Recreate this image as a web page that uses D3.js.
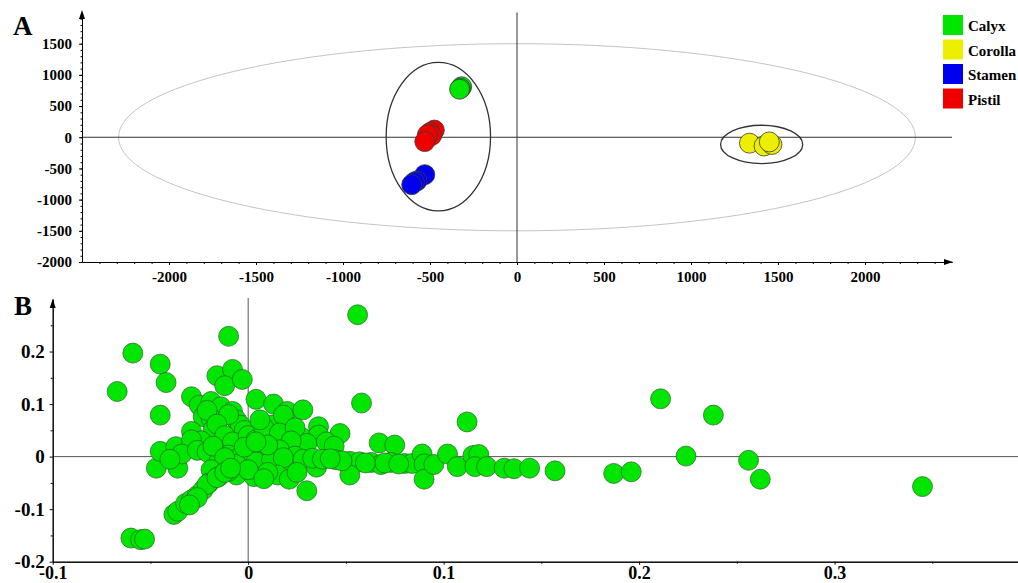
<!DOCTYPE html>
<html>
<head>
<meta charset="utf-8">
<script src="https://cdn.jsdelivr.net/npm/d3@7"></script>
<style>
  body { margin: 0; background: #fff; }
  svg text { font-family: "Liberation Serif", "Times New Roman", serif; font-weight: bold; fill: #000; }
</style>
</head>
<body>
<svg id="vis" width="1018" height="583"></svg>
<script>
// ---- panel A : PCA score plot ----
const groups = ["Calyx", "Corolla", "Stamen", "Pistil"];
const groupColors = ["#00e600", "#eeee00", "#0000ee", "#ee0000"];

const calyx = [[-318, 810], [-325, 785], [-330, 770]];
const corolla = [[1336, -95], [1420, -140], [1465, -115], [1450, -75]];
const stamen = [[-530, -600], [-575, -700], [-590, -720], [-605, -760]];
const pistil = [[-475, 115], [-500, 75], [-490, 30], [-515, 40], [-530, -70]];

// ellipses: [cx, cy, rx, ry]
const t2Ellipse = [0, 0, 2290, 1500];
const clusterEllipses = [[-452, 10, 300, 1190], [1406, -115, 236, 307]];

const xTicksA = [-2000, -1500, -1000, -500, 0, 500, 1000, 1500, 2000];
const yTicksA = [-2000, -1500, -1000, -500, 0, 500, 1000, 1500];

// ---- panel B : loading plot ----
const loadings = [
  // outer points
  [-0.067, 0.124], [-0.059, 0.197], [-0.045, 0.176], [-0.042, 0.141], [-0.045, 0.079],
  [-0.060, -0.155], [-0.055, -0.158], [-0.053, -0.157], [-0.010, 0.229], [0.056, 0.270],
  [0.058, 0.102], [0.112, 0.066], [0.211, 0.110], [0.238, 0.079], [0.224, 0.001],
  [0.256, -0.007], [0.262, -0.043], [0.345, -0.057], [0.187, -0.032], [0.196, -0.029],
  [0.157, -0.027], [0.030, -0.065],
  // upper left
  [-0.016, 0.154], [-0.008, 0.166], [-0.012, 0.135], [-0.003, 0.147], [-0.029, 0.114],
  [0.004, 0.109], [-0.025, 0.098], [-0.019, 0.105], [-0.014, 0.095], [-0.008, 0.086],
  [-0.006, 0.070], [-0.023, 0.076], [-0.019, 0.073], [-0.018, 0.051], [-0.029, 0.048],
  [-0.004, 0.060], [-0.021, 0.088], [-0.010, 0.080], [-0.016, 0.062], [-0.002, 0.050],
  [-0.012, 0.040], [-0.024, 0.030], [-0.008, 0.028], [0.000, 0.040],
  // upper right arm
  [0.013, 0.100], [0.020, 0.086], [0.028, 0.089], [0.036, 0.057], [0.047, 0.044],
  [0.012, 0.060], [0.018, 0.079], [0.028, 0.035], [0.036, 0.041], [0.004, 0.032],
  [0.008, 0.055], [0.016, 0.045], [0.024, 0.055], [0.030, 0.025], [0.040, 0.028],
  [0.067, 0.026], [0.075, 0.022], [0.044, 0.020], [0.006, 0.070], [0.022, 0.030],
  // left edge
  [-0.047, -0.022], [-0.045, 0.010], [-0.036, -0.022], [-0.037, 0.019], [-0.029, 0.032],
  [-0.034, 0.005], [-0.040, -0.005], [-0.026, 0.012],
  // centre
  [-0.021, 0.009], [-0.010, 0.003], [-0.004, 0.000], [0.001, 0.001], [0.009, 0.000],
  [0.016, 0.013], [0.024, 0.001], [-0.015, -0.010], [-0.006, -0.015], [0.004, -0.010],
  [0.012, -0.006], [0.020, -0.012], [-0.018, 0.020], [-0.002, 0.018], [0.010, 0.022],
  [0.004, 0.028], [-0.012, -0.002], [0.018, -0.002], [0.028, -0.005],
  // lower centre
  [-0.019, -0.025], [-0.020, -0.050], [-0.015, -0.038], [-0.006, -0.035], [0.003, -0.038],
  [0.015, -0.035], [0.021, -0.043], [0.010, -0.030], [-0.010, -0.028], [0.000, -0.025],
  [0.008, -0.042], [0.025, -0.030], [0.035, -0.020],
  // lower arm
  [-0.038, -0.110], [-0.036, -0.104], [-0.032, -0.089], [-0.029, -0.082], [-0.026, -0.074],
  [-0.023, -0.063], [-0.021, -0.053], [-0.016, -0.040], [-0.012, -0.030], [-0.009, -0.022],
  [-0.026, -0.078], [-0.030, -0.092],
  // horizontal band
  [0.033, -0.003], [0.038, -0.005], [0.045, -0.006], [0.052, -0.009], [0.057, -0.010],
  [0.063, -0.011], [0.068, -0.015], [0.073, -0.011], [0.052, -0.035], [0.080, -0.013],
  [0.084, -0.013], [0.089, 0.005], [0.090, -0.014], [0.090, -0.043], [0.095, -0.015],
  [0.102, 0.005], [0.107, -0.019], [0.115, 0.002], [0.118, 0.004], [0.116, -0.019],
  [0.122, -0.019], [0.131, -0.022], [0.136, -0.023], [0.144, -0.022], [0.060, -0.012],
  [0.048, -0.008], [0.042, -0.004], [0.070, -0.012], [0.077, -0.014]
];

const xTicksB = [-0.1, 0, 0.1, 0.2, 0.3];
const xMinorB = [-0.05, 0.05, 0.15, 0.25, 0.35];
const yTicksB = [-0.2, -0.1, 0, 0.1, 0.2];
const yMinorB = [-0.15, -0.05, 0.05, 0.15, 0.25];

const serif = "'Liberation Serif', 'Times New Roman', serif";
const svg = d3.select("svg#vis");

function translate(x, y) {
  return "translate(" + String(x) + "," + String(y) + ")";
}

function arrowUp(g, x, y) {
  g.append("path")
    .attr("d", "M" + x + "," + y + " l-3,9 l6,0 z")
    .attr("fill", "#000");
}

function arrowRight(g, x, y) {
  g.append("path")
    .attr("d", "M" + x + "," + y + " l-9,-3 l0,6 z")
    .attr("fill", "#000");
}

// bold serif labels on an axis group
function styleAxis(sel, size) {
  sel.attr("font-family", serif).attr("font-weight", "bold").attr("font-size", size);
  sel.select(".domain").attr("stroke", "#000");
  sel.selectAll("text").style("font-size", size + "px");
}

drawPanelA();
drawPanelB();

function drawPanelA() {
  const x = d3.scaleLinear().domain([-2500, 2500]).range([82, 952]);
  const y = d3.scaleLinear().domain([-2000, 2000]).range([262, 12.5]);
  const g = svg.append("g").attr("id", "panelA");

  // T2 ellipse
  g.append("ellipse")
    .attr("cx", x(t2Ellipse[0])).attr("cy", y(t2Ellipse[1]))
    .attr("rx", x(t2Ellipse[2]) - x(0)).attr("ry", y(0) - y(t2Ellipse[3]))
    .attr("fill", "none").attr("stroke", "#c4c4c4").attr("stroke-width", 1);

  // zero lines
  g.append("line")
    .attr("x1", x(-2500)).attr("x2", x(2500)).attr("y1", y(0)).attr("y2", y(0))
    .attr("stroke", "#333").attr("stroke-width", 1);
  g.append("line")
    .attr("x1", x(0)).attr("x2", x(0)).attr("y1", y(-2000)).attr("y2", y(2000))
    .attr("stroke", "#333").attr("stroke-width", 1);

  g.selectAll("ellipse.cluster")
    .data(clusterEllipses)
    .enter()
    .append("ellipse")
    .attr("class", "cluster")
    .attr("cx", d => x(d[0])).attr("cy", d => y(d[1]))
    .attr("rx", d => x(d[2]) - x(0)).attr("ry", d => y(0) - y(d[3]))
    .attr("fill", "none").attr("stroke", "#333").attr("stroke-width", 1.3);

  // axes
  const yAxis = d3.axisLeft(y).tickValues(yTicksA).tickSize(3).tickPadding(7)
    .tickFormat(d => String(d)).tickSizeOuter(0);
  const yMinor = d3.axisLeft(y).tickValues(d3.range(-2000, 2000, 100))
    .tickSize(1.5).tickFormat("").tickSizeOuter(0);
  const xAxis = d3.axisBottom(x).tickValues(xTicksA).tickSize(3).tickPadding(6)
    .tickFormat(d => String(d)).tickSizeOuter(0);
  const xMinor = d3.axisBottom(x).tickValues(d3.range(-2400, 2500, 100))
    .tickSize(2).tickFormat("").tickSizeOuter(0);

  g.append("g").attr("transform", translate(x(-2500), 0)).call(yMinor);
  g.append("g").attr("transform", translate(x(-2500), 0)).call(yAxis).call(styleAxis, 15);
  g.append("g").attr("transform", translate(0, y(-2000))).call(xMinor);
  g.append("g").attr("transform", translate(0, y(-2000))).call(xAxis).call(styleAxis, 15);
  g.selectAll(".domain").attr("stroke", "#000");
  arrowUp(g, x(-2500), 10);
  arrowRight(g, x(2500) + 1, y(-2000));

  // scores
  const series = [calyx, corolla, stamen, pistil];
  series.forEach(function(pts, i) {
    g.append("g").selectAll("circle")
      .data(pts)
      .enter()
      .append("circle")
      .attr("cx", d => x(d[0]))
      .attr("cy", d => y(d[1]))
      .attr("r", 10)
      .attr("fill", groupColors[i])
      .attr("stroke", "#3a3a3a")
      .attr("stroke-width", 0.8);
  });

  // legend
  const legend = g.append("g").attr("transform", translate(943, 15));
  const rows = legend.selectAll("g")
    .data(groups)
    .enter()
    .append("g")
    .attr("transform", (d, i) => translate(0, i * 24.5));
  rows.append("rect")
    .attr("width", 20).attr("height", 20)
    .attr("fill", (d, i) => groupColors[i]);
  rows.append("text")
    .attr("x", 25).attr("y", 16)
    .style("font-size", "15px")
    .text(d => d);

  svg.append("text").attr("x", 13).attr("y", 35)
    .style("font-size", "27px").text("A");
}

function drawPanelB() {
  const x = d3.scaleLinear().domain([-0.1, 0.4]).range([52.7, 1030]);
  const y = d3.scaleLinear().domain([-0.2, 0.3]).range([561.7, 299]);
  const g = svg.append("g").attr("id", "panelB");

  g.append("line")
    .attr("x1", x(-0.1)).attr("x2", 1018).attr("y1", y(0)).attr("y2", y(0))
    .attr("stroke", "#555").attr("stroke-width", 1);
  g.append("line")
    .attr("x1", x(0)).attr("x2", x(0)).attr("y1", y(-0.2)).attr("y2", 298)
    .attr("stroke", "#555").attr("stroke-width", 1);

  const yAxis = d3.axisLeft(y).tickValues(yTicksB).tickSize(3).tickPadding(5)
    .tickFormat(d => String(d)).tickSizeOuter(0);
  const yMinor = d3.axisLeft(y).tickValues(yMinorB).tickSize(2).tickFormat("").tickSizeOuter(0);
  const xAxis = d3.axisBottom(x).tickValues(xTicksB).tickSize(3).tickPadding(2)
    .tickFormat(d => String(d)).tickSizeOuter(0);
  const xMinor = d3.axisBottom(x).tickValues(xMinorB).tickSize(2).tickFormat("").tickSizeOuter(0);

  g.append("g").attr("transform", translate(x(-0.1), 0)).call(yMinor);
  g.append("g").attr("transform", translate(x(-0.1), 0)).call(yAxis).call(styleAxis, 19);
  g.append("g").attr("transform", translate(0, y(-0.2))).call(xMinor);
  g.append("g").attr("transform", translate(0, y(-0.2))).call(xAxis).call(styleAxis, 18);
  g.selectAll(".domain").attr("stroke", "#000");
  arrowUp(g, x(-0.1), 299);

  g.append("g").selectAll("circle")
    .data(loadings)
    .enter()
    .append("circle")
    .attr("cx", d => x(d[0]))
    .attr("cy", d => y(d[1]))
    .attr("r", 10)
    .attr("fill", "#00e600")
    .attr("stroke", "#2f5f2f")
    .attr("stroke-width", 0.7);

  svg.append("text").attr("x", 14).attr("y", 315)
    .style("font-size", "27px").text("B");
}
</script>
</body>
</html>
